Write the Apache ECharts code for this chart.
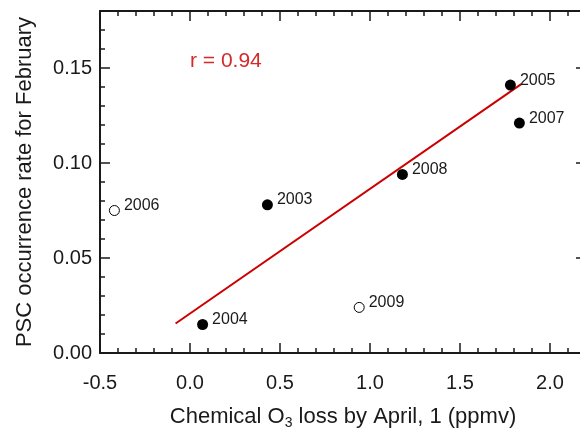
<!DOCTYPE html>
<html>
<head>
<meta charset="utf-8">
<script src="https://cdn.jsdelivr.net/npm/echarts@6/dist/echarts.min.js"></script>
<style>
  html, body { margin: 0; padding: 0; background: #fff; }
  #chart { width: 580px; height: 430px; }
</style>
</head>
<body>
<div id="chart"></div>
<script>
// Winter data: chemical ozone loss vs. PSC occurrence rate
const years    = ['2003', '2004', '2005', '2006', '2007', '2008', '2009'];
const o3Loss   = [0.43, 0.07, 1.78, -0.42, 1.83, 1.18, 0.94];
const pscRate  = [0.078, 0.015, 0.141, 0.075, 0.121, 0.094, 0.024];
const openYears = ['2006', '2009'];   // years excluded from the fit

// Fitted line end points
const fitX = [-0.08, 1.84];
const fitY = [0.0155, 0.1415];
const corrText = 'r = 0.94';

const FONT = '"Liberation Sans", Arial, Helvetica, sans-serif';
const INK = '#1a1a1a';

const filled = [], hollow = [];
years.forEach((y, i) => {
  const item = { name: y, value: [o3Loss[i], pscRate[i]] };
  (openYears.includes(y) ? hollow : filled).push(item);
});
const fitData = fitX.map((x, i) => [x, fitY[i]]);

function isMultiple(v, step) {
  const k = Math.round(v / step);
  return Math.abs(v - k * step) < 1e-9;
}

const X_MIN = -0.5, X_MAX = 2.2, Y_MIN = 0, Y_MAX = 0.18;

function xAxisDef(pos, major, withLabel) {
  return {
    type: 'value', position: pos, min: X_MIN, max: X_MAX,
    interval: major ? 0.5 : 0.1,
    axisLine: { show: major, onZero: false, lineStyle: { color: INK, width: 2 } },
    axisTick: { show: true, inside: true, length: major ? 10 : 5, lineStyle: { color: INK, width: 1.5 } },
    axisLabel: {
      show: withLabel, margin: 20, color: INK, fontFamily: FONT, fontSize: 20,
      formatter: v => isMultiple(v, 0.5) && v <= 2.0 + 1e-9 ? v.toFixed(1) : ''
    },
    splitLine: { show: false }
  };
}
function yAxisDef(pos, major, withLabel) {
  return {
    type: 'value', position: pos, min: Y_MIN, max: Y_MAX,
    interval: major ? 0.05 : 0.01,
    axisLine: { show: major, onZero: false, lineStyle: { color: INK, width: 2 } },
    axisTick: { show: true, inside: true, length: major ? 10 : 5, lineStyle: { color: INK, width: 1.5 } },
    axisLabel: {
      show: withLabel, margin: 8, color: INK, fontFamily: FONT, fontSize: 20,
      formatter: v => isMultiple(v, 0.05) && v <= 0.15 + 1e-9 ? v.toFixed(2) : ''
    },
    splitLine: { show: false }
  };
}

const xMain = xAxisDef('bottom', true, true);
xMain.name = 'Chemical O{sub|3} loss by April, 1 (ppmv)';
xMain.nameLocation = 'middle';
xMain.nameGap = 51;
xMain.nameTextStyle = {
  color: INK, fontFamily: FONT, fontSize: 22, lineHeight: 26,
  rich: { sub: { fontFamily: FONT, fontSize: 14, lineHeight: 10, verticalAlign: 'bottom', color: INK } }
};

const yMain = yAxisDef('left', true, true);
yMain.name = 'PSC occurrence rate for February';
yMain.nameLocation = 'middle';
yMain.nameGap = 64;
yMain.nameTextStyle = { color: INK, fontFamily: FONT, fontSize: 22 };

const yearLabel = {
  show: true, position: 'right', distance: 4, offset: [0, -5],
  formatter: p => p.name, color: INK, fontFamily: FONT, fontSize: 16
};

const chart = echarts.init(document.getElementById('chart'), null, { renderer: 'canvas' });
chart.setOption({
  backgroundColor: '#fff',
  animation: false,
  grid: { left: 100, right: -6, top: 11, bottom: 77, containLabel: false, outerBoundsMode: 'none' },
  xAxis: [
    xMain,
    xAxisDef('bottom', false, false),
    xAxisDef('top', true, false),
    xAxisDef('top', false, false)
  ],
  yAxis: [
    yMain,
    yAxisDef('left', false, false),
    yAxisDef('right', true, false),
    yAxisDef('right', false, false)
  ],
  graphic: [{
    type: 'text', left: 190, top: 51,
    style: { text: corrText, fill: '#d42a2a', font: '21px ' + FONT }
  }],
  series: [
    {
      type: 'line', data: fitData, xAxisIndex: 0, yAxisIndex: 0,
      showSymbol: false, symbol: 'none',
      lineStyle: { color: '#cc0000', width: 2 }, z: 2
    },
    {
      type: 'scatter', data: filled, xAxisIndex: 0, yAxisIndex: 0,
      symbol: 'circle', symbolSize: 11,
      itemStyle: { color: '#000', borderWidth: 0, opacity: 1 },
      label: yearLabel, z: 3
    },
    {
      type: 'scatter', data: hollow, xAxisIndex: 0, yAxisIndex: 0,
      symbol: 'circle', symbolSize: 10,
      itemStyle: { color: '#fff', borderColor: '#000', borderWidth: 1, opacity: 1 },
      label: yearLabel, z: 3
    }
  ]
});
</script>
</body>
</html>
